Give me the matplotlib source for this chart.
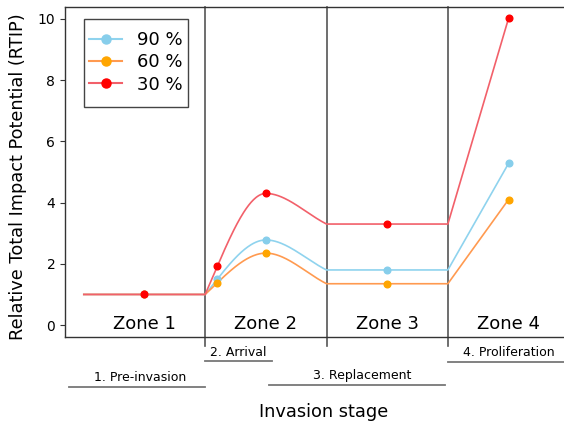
import numpy as np
import matplotlib
matplotlib.use("Agg")
import matplotlib.pyplot as plt
from matplotlib.patches import Rectangle

# ---- data ----
series_labels = ["90 %", "60 %", "30 %"]
point_x = [0.5, 1.1, 1.5, 2.5, 3.5]          # zone1, arrival, peak, zone3, zone4
rtip_90 = [1.0, 1.50, 2.78, 1.80, 5.28]
rtip_60 = [1.0, 1.38, 2.35, 1.35, 4.10]
rtip_30 = [1.0, 1.92, 4.30, 3.30, 10.02]
zone_labels = ["Zone 1", "Zone 2", "Zone 3", "Zone 4"]
zone_bounds = [1, 2, 3]
stage_labels = ["1. Pre-invasion", "2. Arrival", "3. Replacement", "4. Proliferation"]
y_ticks = [0, 2, 4, 6, 8, 10]

marker_colors = ["skyblue", "orange", "red"]
line_colors = ["#8fd3ee", "#ff9a50", "#f2606a"]


def hermite(xk, yk, mk, npts=60):
    """Smooth curve through knots xk/yk with tangents mk (rendering only)."""
    xs_all, ys_all = [], []
    for i in range(len(xk) - 1):
        h = xk[i + 1] - xk[i]
        t = np.linspace(0, 1, npts)
        h00 = 2 * t**3 - 3 * t**2 + 1; h10 = t**3 - 2 * t**2 + t
        h01 = -2 * t**3 + 3 * t**2; h11 = t**3 - t**2
        ys_all.append(h00 * yk[i] + h10 * h * mk[i] + h01 * yk[i + 1] + h11 * h * mk[i + 1])
        xs_all.append(xk[i] + t * h)
    return np.concatenate(xs_all), np.concatenate(ys_all)


fig = plt.figure(figsize=(5.64, 4.28), dpi=100)
ax = fig.add_axes([65 / 564, 1 - 337 / 428, 520 / 564, 330 / 428])
ax.set_xlim(-0.155, 4.13)
ax.set_ylim(-0.39, 10.39)

for vals, mc, lc, lab in zip([rtip_90, rtip_60, rtip_30], marker_colors, line_colors, series_labels):
    z1, arr, peak, z3, z4 = vals
    kx = [zone_bounds[0], point_x[1], point_x[2], zone_bounds[1]]
    ky = [z1, arr, peak, z3]
    d0 = (ky[1] - ky[0]) / (kx[1] - kx[0])
    d2 = (ky[3] - ky[2]) / (kx[3] - kx[2])
    xs2, ys2 = hermite(kx, ky, [d0, d0, 0.0, d2])
    xline = np.concatenate([[0, zone_bounds[0]], xs2, [zone_bounds[2], point_x[4]]])
    yline = np.concatenate([[z1, z1], ys2, [z3, z4]])
    ax.plot(xline, yline, color=lc, lw=1.2, zorder=2)
    ax.plot(point_x, vals, "o", color=mc, ms=4.8, zorder=3)
    ax.plot([], [], "-o", color=lc, mfc=mc, mec=mc, ms=6.5, lw=1.5, label=lab)

# zone boundaries
for b in zone_bounds:
    ax.plot([b, b], [-0.68, 10.39], color="#555555", lw=1.2, clip_on=False, zorder=1)

for i, zl in enumerate(zone_labels):
    ax.text(i + 0.5, 0.02, zl, ha="center", va="center", fontsize=13)

# stage annotations
stage_text_pos = [(0.46, -1.72), (1.27, -0.88), (2.29, -1.66), (3.5, -0.9)]
stage_line = [((-0.12, 1.0), -2.01), ((1.0, 1.55), -1.18), ((1.53, 2.98), -1.96), ((3.0, 4.2), -1.2)]
for lab, (tx, ty), ((x0, x1), ly) in zip(stage_labels, stage_text_pos, stage_line):
    ax.text(tx, ty, lab, ha="center", va="center", fontsize=9, clip_on=False)
    ax.plot([x0, x1], [ly, ly], color="#777777", lw=1.3, clip_on=False)

ax.set_yticks(y_ticks)
ax.set_xticks([])
ax.tick_params(axis="y", labelsize=10, length=3.5, color="#333333")
for s in ["left", "bottom", "top"]:
    ax.spines[s].set_color("#333333")
    ax.spines[s].set_linewidth(1.0)
ax.spines["right"].set_visible(False)

fig.text(18 / 564, 1 - 177 / 428, "Relative Total Impact Potential (RTIP)", rotation=90,
         ha="center", va="center", fontsize=12.8)
fig.text(324 / 564, 1 - 412 / 428, "Invasion stage", ha="center", va="center", fontsize=12.8)

# legend box
ax.add_patch(Rectangle((84 / 564, 1 - 107 / 428), 104 / 564, 88 / 428,
                       transform=fig.transFigure, facecolor="white",
                       edgecolor="#444444", lw=1.0, zorder=4, clip_on=False))
leg = ax.legend(loc="upper left", bbox_to_anchor=(89 / 564, 1 - 31 / 428),
                bbox_transform=fig.transFigure, fontsize=13, frameon=False,
                labelspacing=0.24, handlelength=1.85,
                borderaxespad=0, borderpad=0, handletextpad=0.8)
leg.set_zorder(5)

fig.savefig("out.png", dpi=100)
